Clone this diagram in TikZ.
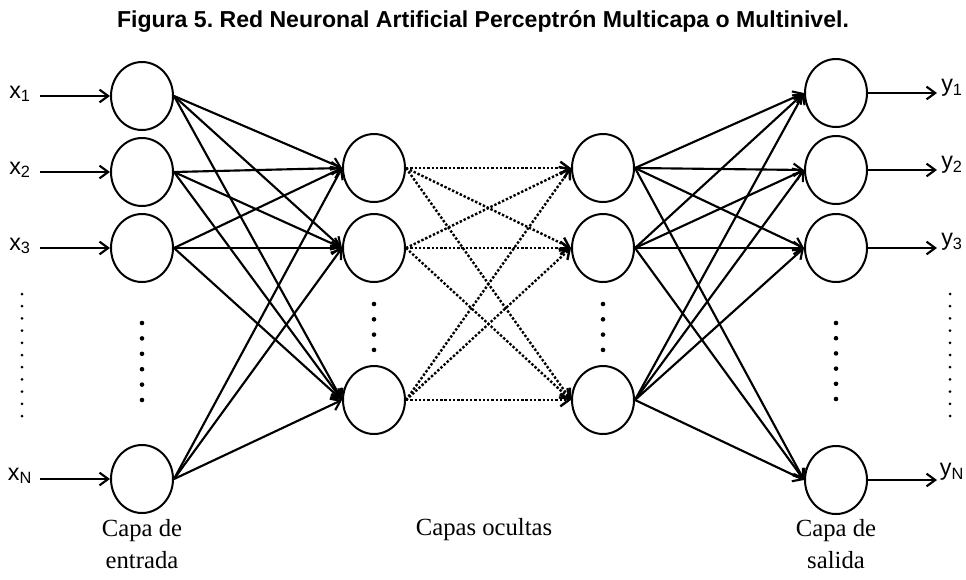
\documentclass[tikz,border=0pt]{standalone}
\usepackage{fontspec}
\setmainfont{Liberation Serif}
\newfontfamily\arial{Liberation Sans}
\usetikzlibrary{shapes.geometric}
\usetikzlibrary{arrows.meta}

\tikzset{
  neurona/.style={draw, ellipse, line width=1.5pt, minimum width=46.5pt, minimum height=51pt, inner sep=0pt},
  flecha/.style={line width=1.6pt, -{Straight Barb[length=6.5pt,width=9.5pt]}},
  punteada/.style={flecha, line width=1.8pt, dash pattern=on 1.8pt off 1.4pt},
  etiqueta/.style={font=\arial\fontsize{17.5}{20}\selectfont, inner sep=0pt},
  capa/.style={font=\fontsize{18.5}{24}\selectfont, align=center},
}

\begin{document}
\begin{tikzpicture}[x=0.75pt,y=-0.75pt]
\useasboundingbox (0,0) rectangle (966,579);
\node[font=\arial\bfseries\fontsize{17.3}{20}\selectfont] (titulo) at (483,21) {Figura 5.\ Red Neuronal Artificial Perceptrón Multicapa o Multinivel.};

% capa de entrada
\node[neurona] (i1) at (142,96) {};
\node[neurona] (i2) at (142,172) {};
\node[neurona] (i3) at (142,248) {};
\node[neurona] (iN) at (142,479) {};
% capas ocultas
\node[neurona] (a1) at (374,168) {};
\node[neurona] (a2) at (374,248) {};
\node[neurona] (aN) at (374,400) {};
\node[neurona] (b1) at (603,168) {};
\node[neurona] (b2) at (603,248) {};
\node[neurona] (bN) at (603,400) {};
% capa de salida
\node[neurona] (o1) at (836,93) {};
\node[neurona] (o2) at (836,170) {};
\node[neurona] (o3) at (836,248) {};
\node[neurona] (oN) at (836,480) {};

% entradas
\node[etiqueta] (x1) at (20,94) {x\textsubscript{1}};
\node[etiqueta] (x2) at (20,170) {x\textsubscript{2}};
\node[etiqueta] (x3) at (20,246) {x\textsubscript{3}};
\node[etiqueta] (xN) at (20,476) {x\textsubscript{N}};
\coordinate (e1) at (40,96);
\coordinate (e2) at (40,172);
\coordinate (e3) at (40,248);
\coordinate (eN) at (40,479);
\foreach \n in {1,2,3,N}
  \draw[flecha] (e\n) -- (i\n.west);

% salidas
\node[etiqueta] (y1) at (952,88) {y\textsubscript{1}};
\node[etiqueta] (y2) at (952,165) {y\textsubscript{2}};
\node[etiqueta] (y3) at (952,242) {y\textsubscript{3}};
\node[etiqueta] (yN) at (952,472) {y\textsubscript{N}};
\coordinate (s1) at (937,93);
\coordinate (s2) at (937,170);
\coordinate (s3) at (937,248);
\coordinate (sN) at (937,480);
\foreach \n in {1,2,3,N}
  \draw[flecha] (o\n.east) -- (s\n);

% conexiones
\foreach \a in {i1,i2,i3,iN}
  \foreach \b in {a1,a2,aN}
    \draw[flecha] (\a.east) -- (\b.west);
\foreach \a in {a1,a2,aN}
  \foreach \b in {b1,b2,bN}
    \draw[punteada] (\a.east) -- (\b.west);
\foreach \a in {b1,b2,bN}
  \foreach \b in {o1,o2,o3,oN}
    \draw[flecha] (\a.east) -- (\b.west);

% puntos suspensivos
\foreach \k in {0,...,10} {
  \fill (22,294+12.2*\k) circle (1.5);
  \fill (950,294+12.2*\k) circle (1.5);
}
\foreach \k in {0,...,5} {
  \fill (142,323+15.4*\k) circle (2.3);
  \fill (836,323+15.2*\k) circle (2.3);
}
\foreach \k in {0,...,3} {
  \fill (374,304+15.3*\k) circle (2.3);
  \fill (603,304+15.3*\k) circle (2.3);
}

\node[capa] (entrada) at (142,544) {Capa de\\entrada};
\node[capa] (ocultas) at (484,530) {Capas ocultas};
\node[capa] (salida) at (836,544) {Capa de\\salida};
\end{tikzpicture}
\end{document}
